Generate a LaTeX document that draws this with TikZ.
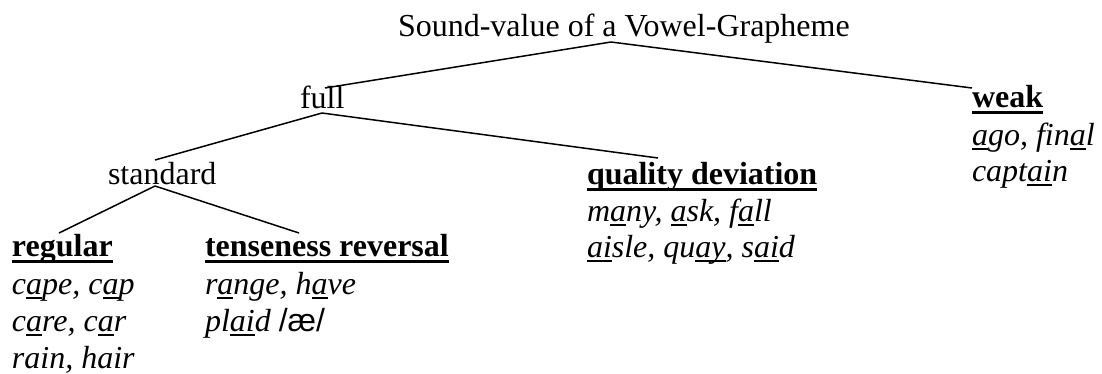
\documentclass[tikz,border=0pt]{standalone}
\usepackage{fontspec}
\setmainfont{Liberation Serif}
\newfontfamily\sansfnt{Liberation Sans}
\newcommand\ulx[1]{\setbox0\hbox{#1}\rlap{\rule[-4.8pt]{\wd0}{1.6pt}}\box0}
\newcommand\hdx[1]{\setbox0\hbox{\bfseries #1}\rlap{\rule[-7.2pt]{\wd0}{2.8pt}}\box0}
\tikzset{
  lbl/.style={anchor=base west, inner sep=0pt, outer sep=0pt, font=\fontsize{32}{36.8}\selectfont},
  ex/.style={lbl, font=\fontsize{32}{36.8}\selectfont\itshape},
  edge/.style={line width=1.5pt}
}
\begin{document}
\begin{tikzpicture}[x=1pt,y=-1pt]
\useasboundingbox (0,0) rectangle (1102,373);
% labels
\node[lbl] (root) at (398,36) {Sound-value of a Vowel-Grapheme};
\node[lbl] (full) at (300,108) {full};
\node[lbl] (standard) at (108,184) {standard};
\node[lbl] (quality) at (587,184) {\hdx{quality deviation}};
\node[lbl] (weak) at (972,107) {\hdx{weak}};
\node[lbl] (regular) at (12,256) {\hdx{regular}};
\node[lbl] (tense) at (205,256) {\hdx{tenseness reversal}};
% examples
\node[ex] (w1) at (972,145) {\ulx{a}go, fin\ulx{a}l};
\node[ex] (w2) at (972,181) {capt\ulx{ai}n};
\node[ex] (q1) at (587,221) {m\ulx{a}ny, \ulx{a}sk, f\ulx{a}ll};
\node[ex] (q2) at (587,257) {\ulx{ai}sle, qu\ulx{ay}, s\ulx{ai}d};
\node[ex] (r1) at (12,294) {c\ulx{a}pe, c\ulx{a}p};
\node[ex] (r2) at (12,331) {c\ulx{a}re, c\ulx{a}r};
\node[ex] (r3) at (12,368) {rain, hair};
\node[ex] (t1) at (205,294) {r\ulx{a}nge, h\ulx{a}ve};
\node[ex] (t2) at (205,331) {pl\ulx{ai}d {\upshape\sansfnt /æ/}};
% junction coordinates
\coordinate (rootJ) at (611,42);
\coordinate (fullT) at (325,88);
\coordinate (fullJ) at (322,113);
\coordinate (weakT) at (972,88);
\coordinate (stdT) at (155,160);
\coordinate (stdJ) at (155,186);
\coordinate (qualT) at (658,158);
\coordinate (regT) at (59,233);
\coordinate (tenT) at (299,233);
% connectors
\draw[edge] (rootJ) -- (fullT);
\draw[edge] (rootJ) -- (weakT);
\draw[edge] (fullJ) -- (stdT);
\draw[edge] (fullJ) -- (qualT);
\draw[edge] (stdJ) -- (regT);
\draw[edge] (stdJ) -- (tenT);
\end{tikzpicture}
\end{document}
